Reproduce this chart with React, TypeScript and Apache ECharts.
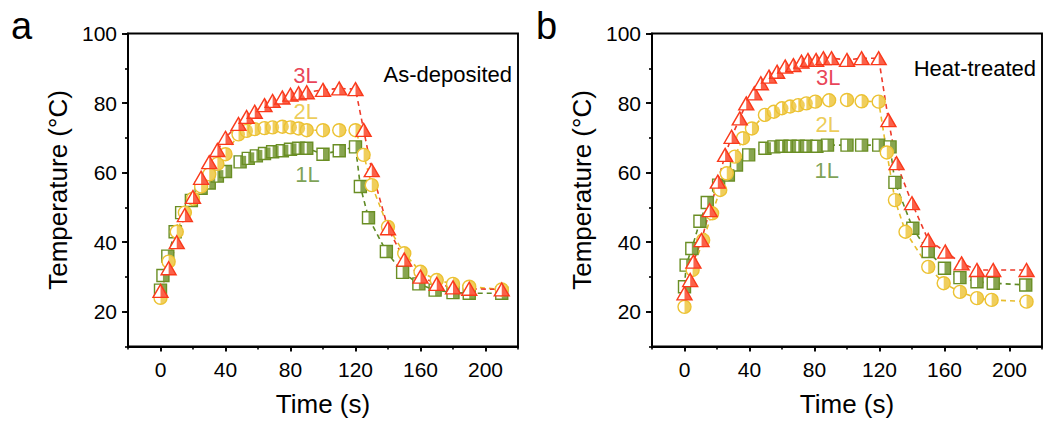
import React, { useEffect, useRef } from "react";
import * as echarts from "echarts";

// ---------- data ----------
// Panel a: As-deposited
const timeA = [0, 5, 10, 15, 20, 25, 30, 35, 40, 48, 53, 58, 64, 69, 75, 80, 85, 90, 100, 110, 120, 125, 130, 140, 150, 160, 170, 180, 190, 210];
const tempA3L = [26, 32.5, 40, 47.8, 53, 58.5, 63, 66.5, 70, 74, 76, 77.5, 79.4, 80.6, 81.6, 82.4, 82.8, 83.1, 83.8, 84.2, 84.0, 72.3, 60.7, 44.0, 35.0, 30.1, 28.0, 27.0, 26.6, 26.4];
const tempA2L = [24, 34.4, 43, 48.5, 52.5, 56, 59.5, 62.5, 65.3, 71, 72, 72.5, 72.8, 73, 73.2, 73, 72.7, 72.2, 72.2, 72.2, 72.2, 65.1, 56.4, 44.4, 36.8, 31.5, 29.1, 28.0, 27.2, 26.4];
const timeA1L = [0, 1.5, 4.5, 9, 13, 19, 25, 30, 35, 40, 49, 54, 59, 64, 69, 75, 80, 85, 90, 100, 110, 120, 123, 128, 139, 149, 159, 169, 180, 190, 210];
const tempA1L = [26.2, 30.4, 36, 43, 48.5, 52, 55.5, 57, 59, 60.3, 63.1, 64.1, 64.8, 65.5, 66, 66.3, 66.7, 67, 67, 65.3, 66.3, 67.4, 56, 47, 37.3, 31.3, 28, 26.2, 25.5, 25.3, 25.3];

// Panel b: Heat-treated
const timeB3L = [0, 3.5, 5.5, 10.5, 15.5, 20.5, 25, 29, 34, 38, 43, 47, 52, 57, 62, 67, 72, 76, 81, 85.5, 90.5, 100, 109, 119.5, 125.5, 130.5, 140, 150, 160.5, 170.5, 180, 190, 210.5];
const tempB3L = [25.3, 29.1, 34.4, 40.6, 49.2, 57.4, 65.1, 70.3, 75.6, 79.9, 82.8, 85.7, 87.6, 89.0, 90.5, 90.9, 91.9, 92.4, 92.4, 92.9, 92.9, 92.4, 92.9, 92.9, 75.1, 62.7, 51.2, 40.6, 37.3, 33.9, 32.0, 32.0, 32.0];
const timeB2L = [0, 5, 11.5, 17, 22, 26, 31, 36, 41.5, 49.5, 55, 60, 65, 70, 75, 80.5, 89, 100, 109, 119.5, 124.5, 129.5, 136, 150, 159.5, 169.5, 180, 189, 210.5];
const tempB2L = [21.4, 32, 40.6, 48.3, 55, 59.8, 64.6, 69.9, 72.7, 76.6, 77.5, 78.5, 79, 79.4, 79.9, 80.4, 80.8, 80.9, 80.5, 80.4, 65.8, 52.1, 43, 32.9, 28.2, 25.7, 23.9, 23.4, 22.9];
const timeB1L = [0, 1, 4.5, 9.5, 14, 21, 27, 32, 39.5, 49.5, 55, 60, 65, 70, 75, 81.5, 88, 100, 109, 119.5, 126.5, 129.5, 140.5, 150, 160, 169.5, 180, 190, 210];
const tempB1L = [27.2, 33.4, 38.2, 46, 51.4, 56.4, 59.3, 62.2, 65.1, 67, 67.4, 67.6, 67.6, 67.6, 67.6, 67.6, 67.9, 67.9, 67.9, 67.9, 67.4, 57.2, 44, 37.3, 32.5, 29.8, 28.6, 28.2, 27.7];

// ticks and labels
const xTickLabels = [0, 40, 80, 120, 160, 200];
const yTickLabels = [20, 40, 60, 80, 100];
const layerNames = ["1L", "2L", "3L"];
// in-plot layer labels, [time, temperature] in data units: 1L, 2L, 3L
const labelPosA = [[90.5, 59.6], [89.4, 77.5], [89.2, 87.9]];
const labelPosB = [[87.5, 60.5], [88.1, 73.9], [88.4, 87.4]];
const panelTitles = ["As-deposited", "Heat-treated"];
const panelLetters = ["a", "b"];

// ---------- styles ----------
const FONT = "'Liberation Sans', Arial, Helvetica, sans-serif";
const markerColors = ["#6a8e24", "#ecc233", "#fa3a1c"];
const lineColors = ["#5f8a25", "#e8bd2c", "#ee3a2a"];
const labelColors = ["#5b8a2a", "#e8bf2e", "#e3102c"];

const SYMBOLS = [
  { full: "path://M0,0L10,0L10,10L0,10Z", half: "path://M0,0M5,0L10,0L10,10L5,10Z", size: [12, 12] },
  { full: "path://M5,0A5,5,0,1,1,5,10A5,5,0,1,1,5,0Z", half: "path://M0,5M5,0A5,5,0,0,1,5,10Z", size: [13, 13] },
  { full: "path://M5,0L10,10L0,10Z", half: "path://M0,10M5,0L10,10L5,10Z", size: [15, 13] },
];

const GRID_W = 390;
const GRID_H = 313;
const GRID_TOP = 33.5;
const GRID_LEFTS = [128, 652];
const AXIS_W = 1.9;

function zip(t: number[], v: number[]) {
  return t.map((x, i) => [x, v[i]]);
}

export default function App() {
  const ref = useRef<HTMLDivElement>(null);

  useEffect(() => {
    if (!ref.current) return;
    const chart = echarts.init(ref.current, undefined, { renderer: "svg" });

    const panels = [
      { data: [zip(timeA1L, tempA1L), zip(timeA, tempA2L), zip(timeA, tempA3L)], labels: labelPosA },
      { data: [zip(timeB1L, tempB1L), zip(timeB2L, tempB2L), zip(timeB3L, tempB3L)], labels: labelPosB },
    ];

    const grids: any[] = [];
    const xAxes: any[] = [];
    const yAxes: any[] = [];
    const series: any[] = [];
    const graphics: any[] = [];

    panels.forEach((panel, p) => {
      grids.push({
        left: GRID_LEFTS[p],
        top: GRID_TOP,
        width: GRID_W,
        height: GRID_H,
        show: true,
        borderColor: "#000",
        borderWidth: AXIS_W,
        backgroundColor: "transparent",
      });
      const xi = xAxes.length;
      xAxes.push({
        type: "value",
        gridIndex: p,
        position: "bottom",
        min: -20,
        max: 220,
        interval: 20,
        axisLine: { show: true, onZero: false, lineStyle: { color: "#000", width: AXIS_W } },
        axisTick: { show: true, inside: false, length: 5, customValues: xTickLabels, lineStyle: { color: "#000", width: AXIS_W } },
        axisLabel: { show: true, customValues: xTickLabels, fontSize: 21, color: "#000", fontFamily: FONT, margin: 12 },
        splitLine: { show: false },
        name: "Time (s)",
        nameLocation: "middle",
        nameGap: 44,
        nameTextStyle: { fontSize: 26, color: "#000", fontFamily: FONT },
      });
      xAxes.push({
        type: "value",
        gridIndex: p,
        position: "bottom",
        min: -20,
        max: 220,
        interval: 20,
        axisLine: { show: false, onZero: false },
        axisTick: { show: true, inside: false, length: 3, lineStyle: { color: "#000", width: 1.6 } },
        axisLabel: { show: false },
        splitLine: { show: false },
      });
      const yi = yAxes.length;
      yAxes.push({
        type: "value",
        gridIndex: p,
        position: "left",
        min: 10,
        max: 100,
        interval: 10,
        axisLine: { show: true, onZero: false, lineStyle: { color: "#000", width: AXIS_W } },
        axisTick: { show: true, inside: false, length: 6, customValues: yTickLabels, lineStyle: { color: "#000", width: AXIS_W } },
        axisLabel: { show: true, customValues: yTickLabels, fontSize: 21, color: "#000", fontFamily: FONT, margin: 11 },
        splitLine: { show: false },
        name: "Temperature (\u00B0C)",
        nameLocation: "middle",
        nameGap: 57,
        nameTextStyle: { fontSize: 26, color: "#000", fontFamily: FONT },
      });
      yAxes.push({
        type: "value",
        gridIndex: p,
        position: "left",
        min: 10,
        max: 100,
        interval: 10,
        axisLine: { show: false, onZero: false },
        axisTick: { show: true, inside: false, length: 3, lineStyle: { color: "#000", width: 1.6 } },
        axisLabel: { show: false },
        splitLine: { show: false },
      });

      panel.data.forEach((pts, k) => {
        const sym = SYMBOLS[k];
        series.push({
          type: "line",
          name: `${panelTitles[p]} ${layerNames[k]}`,
          xAxisIndex: xi,
          yAxisIndex: yi,
          data: pts,
          symbol: sym.full,
          symbolSize: sym.size,
          showSymbol: true,
          lineStyle: { color: lineColors[k], width: 1.6, type: [5, 4] },
          itemStyle: { color: "#fff", borderColor: markerColors[k], borderWidth: 1.4 },
          z: 2,
          silent: true,
        });
        series.push({
          type: "scatter",
          xAxisIndex: xi,
          yAxisIndex: yi,
          data: pts,
          symbol: sym.half,
          symbolSize: sym.size,
          itemStyle: { color: markerColors[k], borderWidth: 0 },
          z: 2,
          silent: true,
        });
      });

      // layer labels placed through the axes
      series.push({
        type: "scatter",
        xAxisIndex: xi,
        yAxisIndex: yi,
        symbolSize: 1,
        itemStyle: { color: "rgba(0,0,0,0)" },
        data: panel.labels.map((pos, k) => ({
          value: pos,
          label: {
            show: true,
            position: "inside",
            formatter: layerNames[k],
            fontSize: 22,
            fontFamily: FONT,
            color: labelColors[k],
          },
        })),
        z: 5,
        silent: true,
      });

      graphics.push({
        type: "text",
        x: GRID_LEFTS[p] + GRID_W - 6,
        y: p === 0 ? 74 : 68.5,
        style: {
          text: panelTitles[p],
          fontSize: 22,
          fontFamily: FONT,
          fill: "#000",
          align: "right",
          verticalAlign: "middle",
          textAlign: "right",
          textVerticalAlign: "middle",
        },
        z: 10,
      });
      graphics.push({
        type: "text",
        x: p === 0 ? 11 : 536,
        y: 25.5,
        style: {
          text: panelLetters[p],
          fontSize: 38,
          fontFamily: FONT,
          fill: "#000",
          align: "left",
          verticalAlign: "middle",
          textAlign: "left",
          textVerticalAlign: "middle",
        },
        z: 10,
      });
    });

    chart.setOption({
      animation: false,
      backgroundColor: "#fff",
      textStyle: { fontFamily: FONT },
      grid: grids,
      xAxis: xAxes,
      yAxis: yAxes,
      series,
      graphic: graphics,
    });

    return () => chart.dispose();
  }, []);

  return (
    <div
      ref={ref}
      style={{ position: "fixed", left: 0, top: 0, width: 1045, height: 423, background: "#fff" }}
    />
  );
}
